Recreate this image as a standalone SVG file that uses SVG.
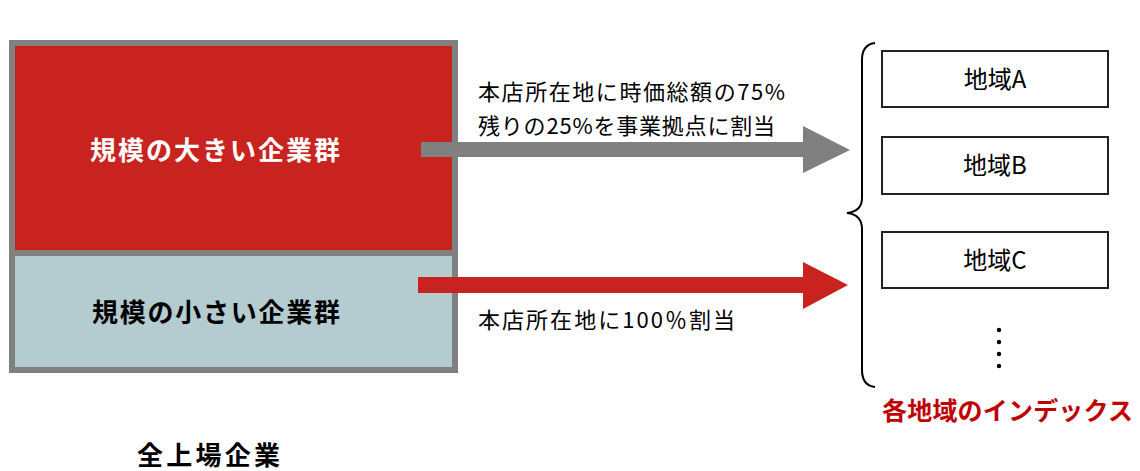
<svg xmlns="http://www.w3.org/2000/svg" width="1140" height="471" viewBox="0 0 1140 471">
<style>
text{font-family:"Noto Sans CJK JP","Noto Sans",sans-serif}
.b{font-weight:bold}
.lbl{font-size:22px;fill:#000}
.reg{fill:#fff;stroke:#222;stroke-width:2}
.regt{font-size:24px;fill:#000;text-anchor:middle}
</style>
<rect width="1140" height="471" fill="#fff"/>
<g id="all-companies">
  <rect x="12" y="43" width="443" height="210" fill="#C8231F"/>
  <rect x="12" y="253" width="443" height="117" fill="#B4CBD0"/>
  <rect x="12" y="43" width="443" height="327" fill="none" stroke="#808080" stroke-width="6"/>
  <line x1="12" y1="253" x2="455" y2="253" stroke="#808080" stroke-width="6"/>
  <text x="90" y="160" class="b" font-size="26" fill="#fff" textLength="250" lengthAdjust="spacing">規模の大きい企業群</text>
  <text x="92" y="322" class="b" font-size="26" fill="#000" textLength="248" lengthAdjust="spacing">規模の小さい企業群</text>
  <text x="137" y="465" class="b" font-size="26" fill="#000" textLength="143" lengthAdjust="spacing">全上場企業</text>
</g>
<g id="connectors">
  <polygon points="421,142 803,142 803,126 850,150 803,173 803,157 421,157" fill="#808080"/>
  <polygon points="418,277 803,277 803,262 848,285 803,309 803,293 418,293" fill="#C8231F"/>
  <text x="478" y="100" class="lbl" textLength="307" lengthAdjust="spacing">本店所在地に時価総額の75%</text>
  <text x="478" y="134" class="lbl" textLength="297" lengthAdjust="spacing">残りの25%を事業拠点に割当</text>
  <text x="478" y="328" class="lbl" textLength="257" lengthAdjust="spacing">本店所在地に100％割当</text>
  <path d="M875,43 C866,44 862,50 862,60 L862,198 C862,208 856,212 847,213 C856,214 862,219 862,229 L862,370 C862,380 866,386 875,387" fill="none" stroke="#000" stroke-width="2"/>
</g>
<g id="region-a">
  <rect x="882" y="51" width="226" height="56" class="reg"/>
  <text x="995" y="88" class="regt">地域A</text>
</g>
<g id="region-b">
  <rect x="882" y="137" width="226" height="57" class="reg"/>
  <text x="995" y="174" class="regt">地域B</text>
</g>
<g id="region-c">
  <rect x="882" y="232" width="226" height="56" class="reg"/>
  <text x="995" y="269" class="regt">地域C</text>
</g>
<g id="more">
  <circle cx="999" cy="330" r="2.2" fill="#000"/>
  <circle cx="999" cy="342" r="2.2" fill="#000"/>
  <circle cx="999" cy="354" r="2.2" fill="#000"/>
  <circle cx="999" cy="366" r="2.2" fill="#000"/>
</g>
<g id="index-label">
  <text x="882" y="420" class="b" font-size="25" fill="#C00000" textLength="251" lengthAdjust="spacing">各地域のインデックス</text>
</g>
</svg>
